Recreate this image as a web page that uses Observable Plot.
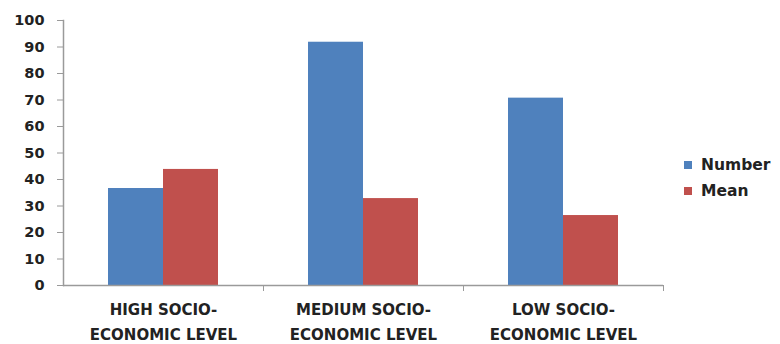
<!DOCTYPE html>
<html>
<head>
<meta charset="utf-8">
<script src="https://cdn.jsdelivr.net/npm/d3@7"></script>
<script src="https://cdn.jsdelivr.net/npm/@observablehq/plot@0.6"></script>
<style>
  html, body { margin: 0; padding: 0; background: #fff; }
  #chart { position: relative; width: 780px; height: 344px; }
  #legend {
    position: absolute; left: 684px; top: 152px;
    font-family: "DejaVu Sans", sans-serif; font-weight: bold; font-size: 15.5px; color: #222;
  }
  .item { display: flex; align-items: center; height: 26px; }
  .swatch { width: 8px; height: 8px; margin-right: 9px; }
</style>
</head>
<body>
<div id="chart"><div id="legend"></div></div>
<script>
// Socio-economic groups, shown as two-line labels under the bars
const categories = [
  "HIGH SOCIO-\nECONOMIC LEVEL",
  "MEDIUM SOCIO-\nECONOMIC LEVEL",
  "LOW SOCIO-\nECONOMIC LEVEL"
];
const series = ["Number", "Mean"];
const numberValues = [36.6, 91.8, 70.7];
const meanValues = [43.8, 32.8, 26.4];
const seriesColors = ["#4F81BD", "#C0504D"];
const yTicks = [0, 10, 20, 30, 40, 50, 60, 70, 80, 90, 100];

// Long-format rows for the grouped bars
const rows = categories.flatMap((category, i) => [
  {category, series: series[0], value: numberValues[i]},
  {category, series: series[1], value: meanValues[i]}
]);

const W = 780, H = 344, ML = 63, MR = 117, MT = 20, MB = 59;
const facetStep = (W - ML - MR) / categories.length;
const axisGray = "#9a9a9a";

const chart = Plot.plot({
  width: W,
  height: H,
  marginTop: MT,
  marginRight: MR,
  marginBottom: MB,
  marginLeft: ML,
  style: {fontFamily: "DejaVu Sans", fontWeight: "bold", fontSize: "14px", color: "#222", background: "white"},
  fx: {domain: categories, padding: 0, label: null},
  x: {domain: series, paddingInner: 0, paddingOuter: 0.8, axis: null},
  y: {domain: [0, 100], label: null},
  color: {domain: series, range: seriesColors},
  marks: [
    Plot.barY(rows, {fx: "category", x: "series", y: "value", fill: "series"}),
    Plot.ruleY([0], {stroke: axisGray, strokeWidth: 1.5}),
    Plot.frame({anchor: "left", facetAnchor: "left", stroke: axisGray, strokeWidth: 1.5}),
    Plot.axisY({ticks: yTicks, tickSize: 6, tickPadding: 13, stroke: axisGray, fill: "#222", fontSize: 14.5, label: null}),
    Plot.axisFx({anchor: "bottom", tickSize: 0, tickPadding: 12, lineHeight: 1.65, fontSize: 15, fill: "#222", label: null}),
    // small ticks marking the boundary between groups
    Plot.axisFx({anchor: "bottom", tickSize: 6, tickFormat: () => "", dx: facetStep / 2, stroke: axisGray, label: null})
  ]
});

const host = document.getElementById("chart");
host.insertBefore(chart, host.firstChild);

// Legend to the right of the plot
const legend = document.getElementById("legend");
series.forEach((s, i) => {
  const item = document.createElement("div");
  item.className = "item";
  const sw = document.createElement("span");
  sw.className = "swatch";
  sw.style.background = seriesColors[i];
  const label = document.createElement("span");
  label.textContent = s;
  item.append(sw, label);
  legend.append(item);
});
</script>
</body>
</html>
